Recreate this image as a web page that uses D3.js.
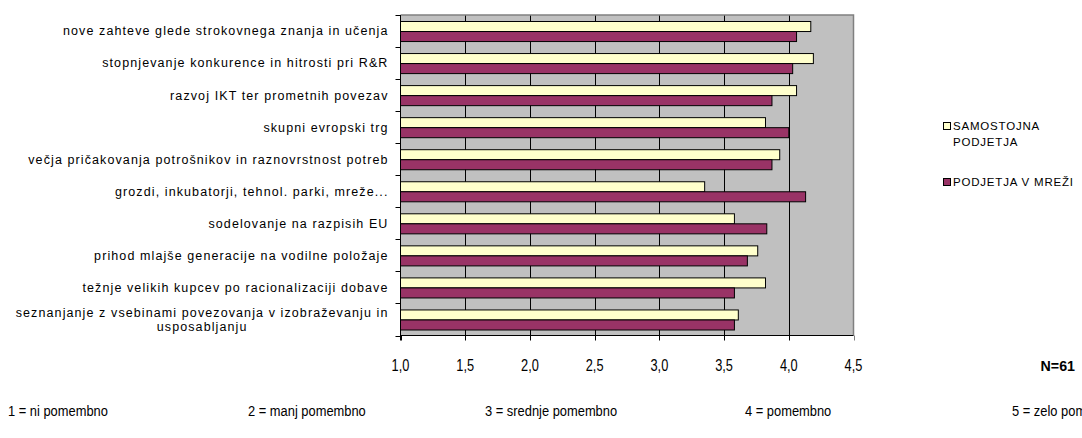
<!DOCTYPE html>
<html>
<head>
<meta charset="utf-8">
<script src="https://cdn.jsdelivr.net/npm/d3@7"></script>
<style>
    body { margin: 0; background: #fff; }
    svg { display: block; }
    .cat_text { font-family: "Liberation Sans", Arial, sans-serif; font-size: 12.5px; letter-spacing: 1.1px; fill: #000; }
    .tick_text { font-family: "Liberation Sans", Arial, sans-serif; font-size: 16px; fill: #000; }
    .legend_text { font-family: "Liberation Sans", Arial, sans-serif; font-size: 11.5px; letter-spacing: 0.8px; fill: #000; }
    .note_text { font-family: "Liberation Sans", Arial, sans-serif; font-size: 15px; fill: #000; }
</style>
</head>
<body>
<svg id="chart"></svg>
<script>
// data
const categories = [
    ["nove zahteve glede strokovnega znanja in učenja"],
    ["stopnjevanje konkurence in hitrosti pri R&R"],
    ["razvoj IKT ter prometnih povezav"],
    ["skupni evropski trg"],
    ["večja pričakovanja potrošnikov in raznovrstnost potreb"],
    ["grozdi, inkubatorji, tehnol. parki, mreže..."],
    ["sodelovanje na razpisih EU"],
    ["prihod mlajše generacije na vodilne položaje"],
    ["težnje velikih kupcev po racionalizaciji dobave"],
    ["seznanjanje z vsebinami povezovanja v izobraževanju in", "usposabljanju"]
];
const seriesNames = [["SAMOSTOJNA", "PODJETJA"], ["PODJETJA V MREŽI"]];
const samostojna = [4.17, 4.19, 4.06, 3.82, 3.93, 3.35, 3.58, 3.76, 3.82, 3.61];
const vMrezi = [4.06, 4.03, 3.87, 4.00, 3.87, 4.13, 3.83, 3.68, 3.58, 3.58];
const xTicks = [1.0, 1.5, 2.0, 2.5, 3.0, 3.5, 4.0, 4.5];
const scaleNotes = ["1 = ni pomembno", "2 = manj pomembno", "3 = srednje pomembno", "4 = pomembno", "5 = zelo pomembno"];
const sampleNote = "N=61";

const colors = ['#FFFFCC', '#993366'];

const W = 1082, H = 438;
const plotLeft = 400.5, plotRight = 853.5, plotTop = 15, plotBottom = 335.5;
const narrow = 0.8;

const svg = d3.select("#chart").attr("width", W).attr("height", H);

const x = d3.scaleLinear().domain([1, 4.5]).range([plotLeft, plotRight]);
const y = d3.scaleBand().domain(d3.range(categories.length)).range([plotTop, plotBottom]);
const ySub = d3.scaleBand().domain([0, 1]).range([6.5, y.step() - 5.5]);

// plot area
svg.append("rect")
    .attr("x", plotLeft).attr("y", plotTop)
    .attr("width", plotRight - plotLeft).attr("height", plotBottom - plotTop)
    .attr("fill", "#C0C0C0");

// grid
svg.append("g").selectAll("line")
    .data(xTicks.slice(1, -1))
    .enter()
    .append("line")
    .attr("x1", d => Math.round(x(d)) + 0.5).attr("x2", d => Math.round(x(d)) + 0.5)
    .attr("y1", plotTop).attr("y2", plotBottom)
    .attr("stroke", "#000").attr("stroke-width", 1);

// top and right border (grey)
svg.append("path")
    .attr("d", "M" + plotLeft + "," + plotTop + "H" + plotRight + "V" + plotBottom)
    .attr("fill", "none").attr("stroke", "#808080").attr("stroke-width", 1.5);

// bars
const series = [samostojna, vMrezi];
series.forEach(function(vals, s) {
    svg.append("g").selectAll("rect")
        .data(vals)
        .enter()
        .append("rect")
        .attr("x", x(1))
        .attr("y", (d, i) => y(i) + ySub(s))
        .attr("width", d => x(d) - x(1))
        .attr("height", ySub.bandwidth())
        .attr("fill", colors[s])
        .attr("stroke", "#000")
        .attr("stroke-width", 1);
});

// y axis
const yAxis = svg.append("g");
yAxis.append("line")
    .attr("x1", plotLeft).attr("x2", plotLeft).attr("y1", plotTop).attr("y2", plotBottom + 5)
    .attr("stroke", "#000");
yAxis.selectAll("line.tick")
    .data(d3.range(categories.length + 1))
    .enter()
    .append("line")
    .attr("class", "tick")
    .attr("x1", plotLeft - 5).attr("x2", plotLeft)
    .attr("y1", i => Math.round(plotTop + i * y.step()) + 0.5)
    .attr("y2", i => Math.round(plotTop + i * y.step()) + 0.5)
    .attr("stroke", "#000");

// category labels: block right-aligned at the axis, lines centred in the block
const lineH = 14;
const labelRight = plotLeft - 12;
const labels = yAxis.selectAll("text")
    .data(categories)
    .enter()
    .append("text")
    .attr("class", "cat_text")
    .attr("text-anchor", "middle")
    .attr("y", (d, i) => y(i) + y.bandwidth() / 2 - (d.length - 1) * lineH / 2);
labels.selectAll("tspan")
    .data(d => d)
    .enter()
    .append("tspan")
    .attr("dy", (d, j) => j === 0 ? "0.35em" : lineH)
    .text(d => d);
labels.each(function() {
    let maxW = 0;
    d3.select(this).selectAll("tspan").each(function() {
        maxW = Math.max(maxW, this.getComputedTextLength());
    });
    d3.select(this).selectAll("tspan").attr("x", labelRight - maxW / 2);
});

// x axis
const xAxis = svg.append("g");
xAxis.append("line")
    .attr("x1", plotLeft).attr("x2", plotRight).attr("y1", plotBottom).attr("y2", plotBottom)
    .attr("stroke", "#000");
xAxis.selectAll("line.tick")
    .data(xTicks)
    .enter()
    .append("line")
    .attr("class", "tick")
    .attr("x1", d => Math.round(x(d)) + 0.5).attr("x2", d => Math.round(x(d)) + 0.5)
    .attr("y1", plotBottom).attr("y2", plotBottom + 5)
    .attr("stroke", (d, i) => i === xTicks.length - 1 ? "#808080" : "#000");
xAxis.selectAll("text")
    .data(xTicks)
    .enter()
    .append("text")
    .attr("class", "tick_text")
    .attr("text-anchor", "middle")
    .attr("transform", d => "translate(" + x(d) + ",365) scale(" + narrow + ",1)")
    .attr("dy", "0.35em")
    .text(d => d3.format(".1f")(d).replace(".", ","));

// legend
const legendY = [126, 182];
const legend = svg.append("g").selectAll("g")
    .data(seriesNames)
    .enter()
    .append("g")
    .attr("transform", (d, i) => "translate(943," + legendY[i] + ")");
legend.append("rect")
    .attr("x", 0.5).attr("y", -3.5)
    .attr("width", 7).attr("height", 7)
    .attr("fill", (d, i) => colors[i])
    .attr("stroke", "#000");
const legendText = legend.append("text")
    .attr("class", "legend_text")
    .attr("x", 10).attr("y", 0);
legendText.selectAll("tspan")
    .data(d => d)
    .enter()
    .append("tspan")
    .attr("x", 10)
    .attr("dy", (d, j) => j === 0 ? "0.35em" : 16)
    .text(d => d);

// N
svg.append("text")
    .attr("class", "note_text")
    .attr("transform", "translate(1075,366) scale(0.95,1)")
    .attr("dy", "0.35em")
    .attr("text-anchor", "end")
    .attr("font-weight", "bold")
    .text(sampleNote);

// scale explanation (last one runs off the right edge, as in the original)
const noteX = [8, 248, 485, 745, 1012];
svg.append("g").selectAll("text")
    .data(scaleNotes)
    .enter()
    .append("text")
    .attr("class", "note_text")
    .attr("transform", (d, i) => "translate(" + noteX[i] + ",411) scale(0.86,1)")
    .attr("dy", "0.35em")
    .text(d => d);
</script>
</body>
</html>
